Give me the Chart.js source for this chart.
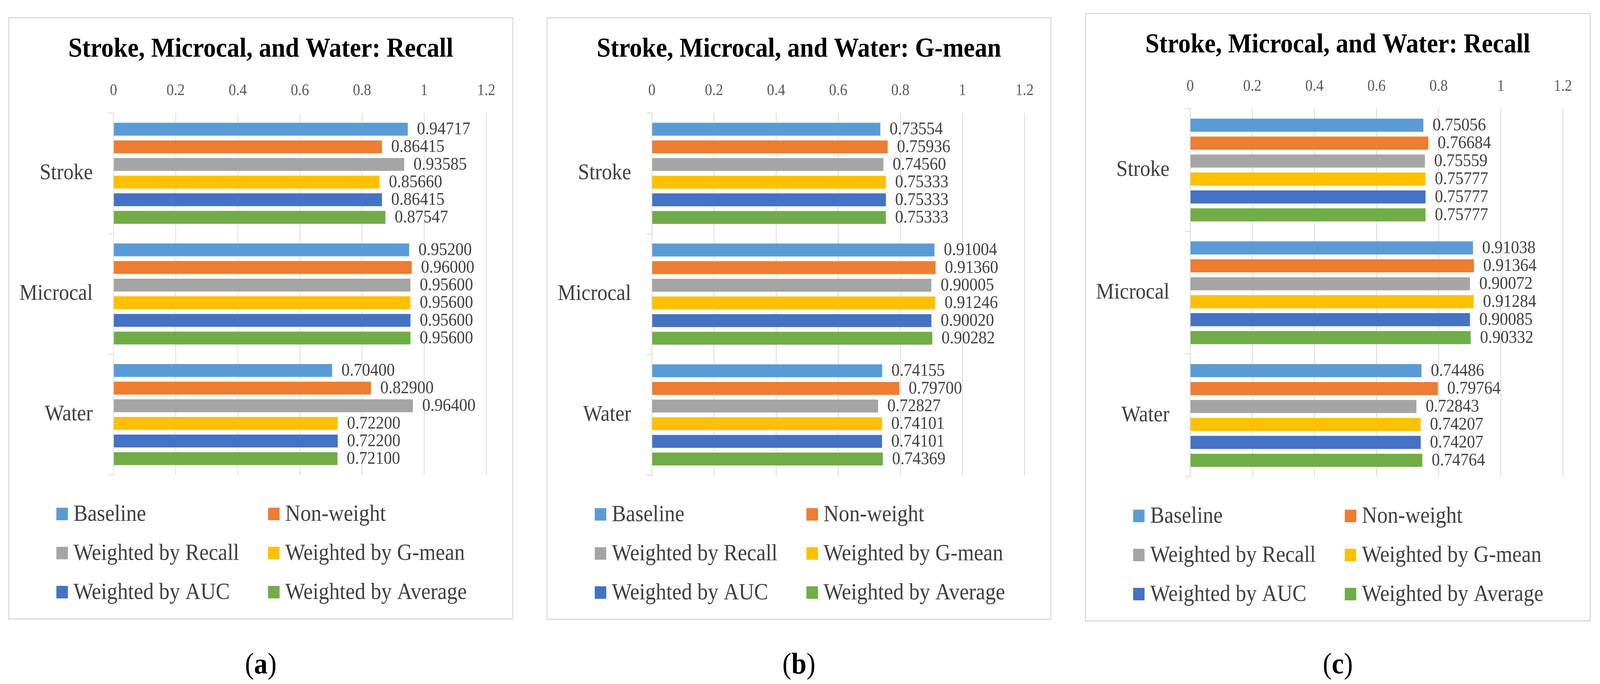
<!DOCTYPE html>
<html>
<head>
<meta charset="utf-8">
<script src="https://cdn.jsdelivr.net/npm/chart.js@4.4.0/dist/chart.umd.min.js"></script>
<style>
html,body{margin:0;padding:0;background:#fff;width:100%;height:100%;overflow:hidden;}
#stage{position:absolute;left:0;top:0;width:4482px;height:1750px;transform-origin:0 0;background:#fff;}
.panel{position:absolute;box-sizing:border-box;border:3px solid #d9d9d9;background:#fff;}
.panel canvas{display:block;}
.cap{position:absolute;text-align:center;font-family:'Liberation Serif',serif;font-size:76px;line-height:76px;color:#000;}
</style>
</head>
<body>
<div id="stage">
<div class="panel" id="pa" style="left:23px;top:44px;width:1415px;height:1541px;"><canvas id="ca"></canvas></div>
<div class="panel" id="pb" style="left:1531px;top:44px;width:1414px;height:1542px;"><canvas id="cb"></canvas></div>
<div class="panel" id="pc" style="left:3039px;top:33px;width:1417px;height:1557px;"><canvas id="cc"></canvas></div>
<div class="cap" style="left:23px;width:1415px;top:1659px;">(<b>a</b>)</div>
<div class="cap" style="left:1531px;width:1414px;top:1659px;">(<b>b</b>)</div>
<div class="cap" style="left:3039px;width:1417px;top:1659px;">(<b>c</b>)</div>
</div>
<script>
// fit the 4482x1750 layout into the actual viewport
(function () {
  const sx = window.innerWidth / 4482, sy = window.innerHeight / 1750;
  document.getElementById('stage').style.transform = 'scale(' + sx + ',' + sy + ')';
})();

// ---------- data ----------
const categories = ['Stroke', 'Microcal', 'Water'];
const seriesNames = ['Baseline', 'Non-weight', 'Weighted by Recall', 'Weighted by G-mean', 'Weighted by AUC', 'Weighted by Average'];
const seriesColors = ['#5B9BD5', '#ED7D31', '#A5A5A5', '#FFC000', '#4472C4', '#70AD47'];
const xTickValues = [0, 0.2, 0.4, 0.6, 0.8, 1, 1.2];
const xTickLabels = ['0', '0.2', '0.4', '0.6', '0.8', '1', '1.2'];

// panel (a)
const titleA = 'Stroke, Microcal, and Water: Recall';
const a_baseline = [0.94717, 0.95200, 0.70400];
const a_nonWeight = [0.86415, 0.96000, 0.82900];
const a_recall = [0.93585, 0.95600, 0.96400];
const a_gmean = [0.85660, 0.95600, 0.72200];
const a_auc = [0.86415, 0.95600, 0.72200];
const a_average = [0.87547, 0.95600, 0.72100];

// panel (b)
const titleB = 'Stroke, Microcal, and Water: G-mean';
const b_baseline = [0.73554, 0.91004, 0.74155];
const b_nonWeight = [0.75936, 0.91360, 0.79700];
const b_recall = [0.74560, 0.90005, 0.72827];
const b_gmean = [0.75333, 0.91246, 0.74101];
const b_auc = [0.75333, 0.90020, 0.74101];
const b_average = [0.75333, 0.90282, 0.74369];

// panel (c)
const titleC = 'Stroke, Microcal, and Water: Recall';
const c_baseline = [0.75056, 0.91038, 0.74486];
const c_nonWeight = [0.76684, 0.91364, 0.79764];
const c_recall = [0.75559, 0.90072, 0.72843];
const c_gmean = [0.75777, 0.91284, 0.74207];
const c_auc = [0.75777, 0.90085, 0.74207];
const c_average = [0.75777, 0.90332, 0.74764];

// ---------- styling ----------
const FONT = "'Liberation Serif', serif";
const GRID = '#d9d9d9';

const valueLabels = {
  id: 'valueLabels',
  afterDatasetsDraw(chart) {
    const ctx = chart.ctx;
    ctx.save();
    ctx.font = '46px ' + FONT;
    ctx.fillStyle = '#404040';
    ctx.textAlign = 'left';
    ctx.textBaseline = 'middle';
    chart.data.datasets.forEach((ds, i) => {
      const meta = chart.getDatasetMeta(i);
      meta.data.forEach((bar, j) => {
        ctx.fillText(ds.data[j].toFixed(5), bar.x + 26, bar.y + 1);
      });
    });
    ctx.restore();
  }
};

const gridLegend = {
  id: 'gridLegend',
  afterDraw(chart) {
    const ctx = chart.ctx;
    const area = chart.chartArea;
    ctx.save();
    ctx.font = '59px ' + FONT;
    ctx.textAlign = 'left';
    ctx.textBaseline = 'middle';
    chart.data.datasets.forEach((ds, i) => {
      const col = i % 2, row = Math.floor(i / 2);
      const sx = col === 0 ? 132 : 725;
      const cy = area.bottom + 100 + row * 100;
      ctx.fillStyle = ds.backgroundColor;
      ctx.fillRect(sx, cy - 16, 32, 32);
      ctx.fillStyle = '#404040';
      ctx.fillText(ds.label, sx + 48, cy + 2);
    });
    ctx.restore();
  }
};

function makeChart(canvasId, panelWidth, title, seriesValues) {
  const cw = panelWidth - 6;
  const plotLeft = 292, plotWidth = 1044;
  const side = cw - plotLeft - plotWidth;
  const datasets = seriesNames.map((name, i) => ({
    label: name,
    data: seriesValues[i],
    backgroundColor: seriesColors[i],
    borderWidth: 0,
    barPercentage: 0.73,
    categoryPercentage: 0.877
  }));
  return new Chart(document.getElementById(canvasId), {
    type: 'bar',
    data: { labels: categories, datasets },
    plugins: [valueLabels, gridLegend],
    options: {
      indexAxis: 'y',
      responsive: true,
      maintainAspectRatio: false,
      animation: false,
      devicePixelRatio: 2,
      layout: { padding: { left: 0, right: 0, top: 0, bottom: 367 } },
      plugins: {
        legend: { display: false },
        tooltip: { enabled: false },
        title: {
          display: true,
          text: title,
          color: '#000',
          font: { family: FONT, size: 70, weight: 'bold' },
          padding: { top: 38, bottom: 0 }
        }
      },
      scales: {
        x: {
          position: 'top',
          min: 0,
          max: 1.2,
          afterBuildTicks: (s) => { s.ticks = xTickValues.map(v => ({ value: v })); },
          afterFit: (s) => { s.height = 120; },
          ticks: {
            callback: (v, i) => xTickLabels[i],
            color: '#595959',
            font: { family: FONT, size: 41 },
            padding: 32,
            maxRotation: 0,
            autoSkip: false
          },
          grid: { color: GRID, lineWidth: 2, drawTicks: false },
          border: { display: false }
        },
        y: {
          afterFit: (s) => { s.width = plotLeft; },
          ticks: {
            color: '#404040',
            font: { family: FONT, size: 57 },
            padding: 43
          },
          grid: { display: true, drawOnChartArea: false, drawTicks: true, tickLength: 15, color: GRID, lineWidth: 2 },
          border: { display: true, color: GRID, width: 2 }
        },
        rightSpace: {
          type: 'linear',
          position: 'right',
          display: true,
          afterFit: (s) => { s.width = side; },
          ticks: { display: false },
          grid: { display: false, drawTicks: false },
          border: { display: false }
        }
      }
    }
  });
}

makeChart('ca', 1415, titleA, [a_baseline, a_nonWeight, a_recall, a_gmean, a_auc, a_average]);
makeChart('cb', 1414, titleB, [b_baseline, b_nonWeight, b_recall, b_gmean, b_auc, b_average]);
makeChart('cc', 1417, titleC, [c_baseline, c_nonWeight, c_recall, c_gmean, c_auc, c_average]);
</script>
</body>
</html>
